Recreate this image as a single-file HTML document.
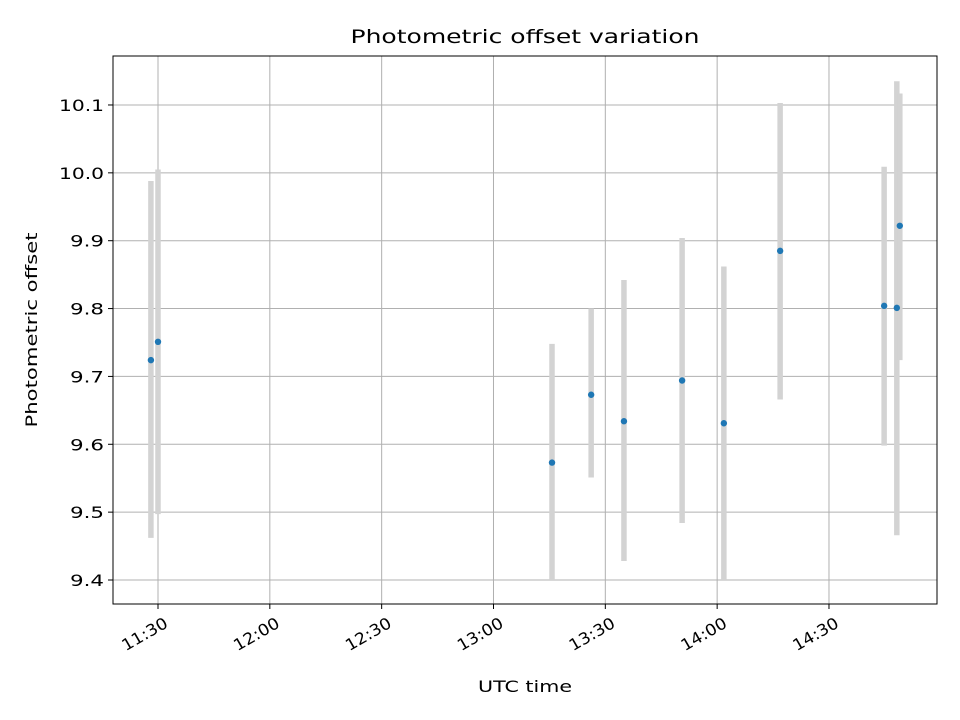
<!DOCTYPE html>
<html><head><meta charset="utf-8"><style>
body{margin:0;background:#fff;}
svg{display:block;font-family:"DejaVu Sans","Liberation Sans",sans-serif;}
</style></head><body>
<svg id="chart" width="960" height="720" xmlns="http://www.w3.org/2000/svg">
<rect width="960" height="720" fill="#fff"/>
<g id="grid"></g>
<g id="marks"></g>
<rect x="113" y="56" width="824" height="548" fill="none" stroke="#000" stroke-width="1"/>
<g id="axes"></g>
<text x="525" y="43" text-anchor="middle" font-size="19" textLength="349" lengthAdjust="spacingAndGlyphs">Photometric offset variation</text>
<text x="525" y="692" text-anchor="middle" font-size="16" textLength="94" lengthAdjust="spacingAndGlyphs">UTC time</text>
<text transform="translate(37,330) rotate(-90)" text-anchor="middle" font-size="16" textLength="195" lengthAdjust="spacingAndGlyphs">Photometric offset</text>
</svg>
<script>
const times = ["11:28.1","11:30.0","13:15.7","13:26.2","13:35.0","13:50.6","14:01.8","14:16.9","14:44.8","14:48.2","14:49.0"];
const offsets = [9.724,9.751,9.573,9.673,9.634,9.694,9.631,9.885,9.804,9.801,9.922];
const errLow = [9.462,9.497,9.400,9.551,9.428,9.484,9.400,9.666,9.598,9.466,9.724];
const errHigh = [9.988,10.005,9.748,9.800,9.842,9.904,9.862,10.103,10.009,10.135,10.117];
const xTickLabels = ["11:30","12:00","12:30","13:00","13:30","14:00","14:30"];
const yTickLabels = ["9.4","9.5","9.6","9.7","9.8","9.9","10.0","10.1"];

const NS="http://www.w3.org/2000/svg";
function toMin(s){const p=s.split(":");return +p[0]*60+ +p[1];}
function xs(t){return 158+(toMin(t)-690)*(111.83/30);}
function ys(v){return 580-(v-9.4)*678.6;}
function mk(tag,attrs,parent){const e=document.createElementNS(NS,tag);for(const k in attrs)e.setAttribute(k,attrs[k]);parent.appendChild(e);return e;}
const grid=document.getElementById('grid'),marks=document.getElementById('marks'),axes=document.getElementById('axes');

xTickLabels.forEach(l=>{
  const x=xs(l);
  const g=mk('line',{x1:x,x2:x,y1:56,y2:604,stroke:'#b0b0b0','stroke-width':1},grid);
  
  
  const t=mk('line',{x1:x,x2:x,y1:604,y2:609,stroke:'#000'},axes);
  
  
  const tx=mk('text',{transform:`translate(${x+5},616) rotate(-30)`,'text-anchor':'end','dominant-baseline':'hanging','font-size':16,textLength:50,lengthAdjust:'spacingAndGlyphs'},axes);
  tx.textContent=l;
  
  
});
yTickLabels.forEach(l=>{
  const y=ys(+l);
  const g=mk('line',{x1:113,x2:937,y1:y,y2:y,stroke:'#b0b0b0','stroke-width':1},grid);
  
  
  const t=mk('line',{x1:108,x2:113,y1:y,y2:y,stroke:'#000'},axes);
  
  
  const tx=mk('text',{x:104,y:y+6,'text-anchor':'end','font-size':16,textLength:l.length>3?45:34,lengthAdjust:'spacingAndGlyphs'},axes);
  tx.textContent=l;
  
  
});
times.forEach((t,i)=>{
  const x=xs(t);
  const e=mk('line',{x1:x,x2:x,y1:ys(errLow[i]),y2:ys(errHigh[i]),stroke:'#d3d3d3','stroke-width':5.5},marks);
  
  
});
times.forEach((t,i)=>{
  const p=mk('circle',{cx:xs(t),cy:ys(offsets[i]),r:3.2,fill:'#1f77b4'},marks);
  
  
});
</script>
</body></html>
